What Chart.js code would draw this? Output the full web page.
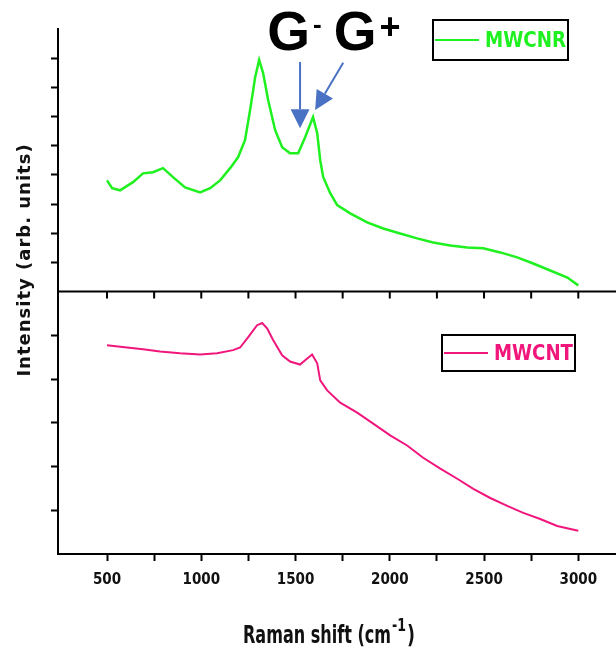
<!DOCTYPE html>
<html>
<head>
<meta charset="utf-8">
<script src="https://cdn.jsdelivr.net/npm/chart.js@4.4.1/dist/chart.umd.min.js"></script>
<style>
  html, body { margin: 0; padding: 0; background: #fff; }
  #wrap { width: 616px; height: 649px; position: relative; }
</style>
</head>
<body>
<div id="wrap"><canvas id="raman"></canvas></div>
<script>
// values (intensity in arbitrary units, one scale per panel)
var mwcnrShift = [500, 527, 569, 638, 691, 744, 797, 850, 914, 994, 1047, 1100, 1153, 1195, 1232, 1259, 1286, 1307, 1328, 1355, 1392, 1429, 1471, 1514, 1551, 1593, 1615, 1631, 1647, 1684, 1721, 1790, 1880, 1965, 2055, 2145, 2230, 2321, 2411, 2496, 2586, 2676, 2761, 2851, 2942, 3000];
var mwcnrIntensity = [3.81, 3.54, 3.47, 3.75, 4.05, 4.09, 4.23, 3.92, 3.57, 3.40, 3.54, 3.81, 4.23, 4.60, 5.19, 6.22, 7.35, 7.94, 7.49, 6.56, 5.53, 4.95, 4.74, 4.74, 5.29, 5.98, 5.43, 4.50, 3.92, 3.37, 2.96, 2.68, 2.37, 2.16, 1.99, 1.82, 1.68, 1.58, 1.51, 1.48, 1.34, 1.17, 0.96, 0.72, 0.48, 0.21];

var mwcntShift = [500, 606, 691, 781, 887, 994, 1084, 1169, 1206, 1248, 1296, 1323, 1349, 1381, 1429, 1471, 1524, 1551, 1588, 1615, 1631, 1668, 1737, 1827, 1912, 2002, 2092, 2177, 2268, 2358, 2443, 2533, 2623, 2708, 2798, 2888, 2958, 3000];
var mwcntIntensity = [4.77, 4.72, 4.68, 4.63, 4.59, 4.56, 4.59, 4.66, 4.72, 4.95, 5.23, 5.28, 5.16, 4.89, 4.54, 4.40, 4.33, 4.43, 4.56, 4.36, 3.97, 3.74, 3.46, 3.23, 2.98, 2.71, 2.48, 2.20, 1.95, 1.72, 1.49, 1.28, 1.10, 0.94, 0.80, 0.64, 0.57, 0.53];

var sampleNames = ["MWCNR", "MWCNT"];
var xTickValues = [500, 750, 1000, 1250, 1500, 1750, 2000, 2250, 2500, 2750, 3000];
var xRange = [240, 3200];

// G- / G+ band arrows: [from shift, from intensity, to shift, to intensity] on the top panel
var gMinusArrow = [1524, 7.87, 1524, 5.6];
var gPlusArrow = [1753, 7.84, 1604, 6.22];

var green = "#1ff01f";
var pink = "#f0167c";
var arrowBlue = "#4a72c4";
var narrow = "'Liberation Sans Narrow', 'Arial Narrow', 'DejaVu Sans Condensed', sans-serif";

function pairs(xs, ys) {
  return xs.map(function (v, i) { return { x: v, y: ys[i] }; });
}

function arrow(ctx, x1, y1, x2, y2) {
  var a = Math.atan2(y2 - y1, x2 - x1), len = 19, half = 9.5;
  var bx = x2 - len * Math.cos(a), by = y2 - len * Math.sin(a);
  ctx.beginPath();
  ctx.moveTo(x1, y1);
  ctx.lineTo(bx, by);
  ctx.stroke();
  ctx.beginPath();
  ctx.moveTo(x2, y2);
  ctx.lineTo(bx + half * Math.sin(a), by - half * Math.cos(a));
  ctx.lineTo(bx - half * Math.sin(a), by + half * Math.cos(a));
  ctx.closePath();
  ctx.fill();
}

// squeeze text horizontally so it spans the given width
function squeezed(ctx, text, x, y, width) {
  var w = ctx.measureText(text).width;
  ctx.save();
  ctx.translate(x, y);
  ctx.scale(Math.min(1, width / w), 1);
  ctx.fillText(text, 0, 0);
  ctx.restore();
  return Math.min(w, width);
}

function legendBox(ctx, box, name, color) {
  ctx.strokeStyle = "#000";
  ctx.lineWidth = 2;
  ctx.strokeRect(box.x, box.y, box.w, box.h);
  var cy = box.y + box.h / 2;
  ctx.strokeStyle = color;
  ctx.beginPath();
  ctx.moveTo(box.x + 2, cy);
  ctx.lineTo(box.x + 46, cy);
  ctx.stroke();
  ctx.font = "bold 22px " + narrow;
  ctx.fillStyle = color;
  ctx.textBaseline = "middle";
  squeezed(ctx, name, box.x + 52, cy + 1, box.w - 54);
}

var extras = {
  id: "extras",
  afterDraw: function (chart) {
    var ctx = chart.ctx, area = chart.chartArea;
    var x = chart.scales.x, yt = chart.scales.yTop;
    ctx.save();

    // line between the two panels with the shared x ticks
    var sep = yt.bottom;
    ctx.strokeStyle = "#000";
    ctx.lineWidth = 2;
    ctx.beginPath();
    ctx.moveTo(area.left - 1, sep);
    ctx.lineTo(area.right, sep);
    x.ticks.forEach(function (t) {
      var px = x.getPixelForValue(t.value);
      ctx.moveTo(px, sep);
      ctx.lineTo(px, sep + 7);
    });
    ctx.stroke();

    // y title spanning both panels
    ctx.save();
    ctx.translate(25, 260);
    ctx.rotate(-Math.PI / 2);
    ctx.font = "bold 18px 'DejaVu Sans', sans-serif";
    ctx.letterSpacing = "1px";
    ctx.fillStyle = "#111";
    ctx.textAlign = "center";
    ctx.textBaseline = "middle";
    ctx.fillText("Intensity (arb. units)", 0, 0);
    ctx.restore();

    // x title with raised -1
    ctx.fillStyle = "#111";
    ctx.textAlign = "left";
    ctx.textBaseline = "alphabetic";
    ctx.font = "bold 24px " + narrow;
    var tx = 243, ty = 643;
    var used = squeezed(ctx, "Raman shift (cm", tx, ty, 148);
    ctx.font = "bold 17px " + narrow;
    var sw = squeezed(ctx, "-1", tx + used + 1, ty - 12, 14);
    ctx.font = "bold 24px " + narrow;
    squeezed(ctx, ")", tx + used + sw + 2, ty, 8);

    // G- G+ label and arrows
    var gx = x.getPixelForValue(1355) - 1, gy = yt.getPixelForValue(8.28);
    var big = "bold 55px 'Liberation Sans', Arial, sans-serif";
    ctx.fillStyle = "#000";
    ctx.font = big;
    var gw = ctx.measureText("G").width;
    ctx.fillText("G", gx, gy);
    ctx.font = "bold 26px 'Liberation Sans', Arial, sans-serif";
    ctx.fillText("-", gx + gw + 3, gy - 17);
    var dw = ctx.measureText("-").width;
    ctx.font = big;
    ctx.fillText("G", gx + gw + dw + 15, gy);
    ctx.font = "bold 36px 'Liberation Sans', Arial, sans-serif";
    ctx.fillText("+", gx + 2 * gw + dw + 18, gy - 11);

    ctx.strokeStyle = arrowBlue;
    ctx.fillStyle = arrowBlue;
    ctx.lineWidth = 2;
    [gMinusArrow, gPlusArrow].forEach(function (a) {
      arrow(ctx, x.getPixelForValue(a[0]), yt.getPixelForValue(a[1]),
        x.getPixelForValue(a[2]), yt.getPixelForValue(a[3]));
    });

    // one legend box per panel
    legendBox(ctx, { x: 433, y: 20, w: 135, h: 40 }, sampleNames[0], green);
    legendBox(ctx, { x: 442, y: 335, w: 133, h: 36 }, sampleNames[1], pink);

    ctx.restore();
  }
};

var yAxis = function (max) {
  return {
    type: "linear",
    position: "left",
    stack: "panels",
    stackWeight: 1,
    min: 0,
    max: max,
    ticks: { display: false, stepSize: 1 },
    afterBuildTicks: function (s) {
      s.ticks = s.ticks.filter(function (t) { return t.value > 0 && t.value < max; });
    },
    grid: { drawOnChartArea: false, color: "#000", tickLength: 7, tickWidth: 2 },
    border: { color: "#000", width: 2 }
  };
};

new Chart(document.getElementById("raman"), {
  type: "line",
  data: {
    datasets: [
      {
        label: sampleNames[0],
        data: pairs(mwcnrShift, mwcnrIntensity),
        yAxisID: "yTop",
        borderColor: green,
        borderWidth: 2.5,
        pointRadius: 0,
        tension: 0
      },
      {
        label: sampleNames[1],
        data: pairs(mwcntShift, mwcntIntensity),
        yAxisID: "yBot",
        borderColor: pink,
        borderWidth: 2,
        pointRadius: 0,
        tension: 0
      }
    ]
  },
  options: {
    responsive: true,
    maintainAspectRatio: false,
    animation: false,
    layout: { padding: { left: 51, top: 29, right: 0, bottom: 50 } },
    plugins: { legend: { display: false }, tooltip: { enabled: false } },
    scales: {
      x: {
        type: "linear",
        min: xRange[0],
        max: xRange[1],
        afterBuildTicks: function (s) {
          s.ticks = xTickValues.map(function (v) { return { value: v }; });
        },
        ticks: {
          autoSkip: false,
          maxRotation: 0,
          padding: 10,
          color: "#111",
          font: { family: narrow, size: 15, weight: "bold" },
          callback: function (v) { return v % 500 === 0 ? v : ""; }
        },
        grid: { drawOnChartArea: false, color: "#000", tickLength: 7, tickWidth: 2 },
        border: { color: "#000", width: 2 }
      },
      yBot: yAxis(6),
      yTop: yAxis(9)
    }
  },
  plugins: [extras]
});
</script>
</body>
</html>
